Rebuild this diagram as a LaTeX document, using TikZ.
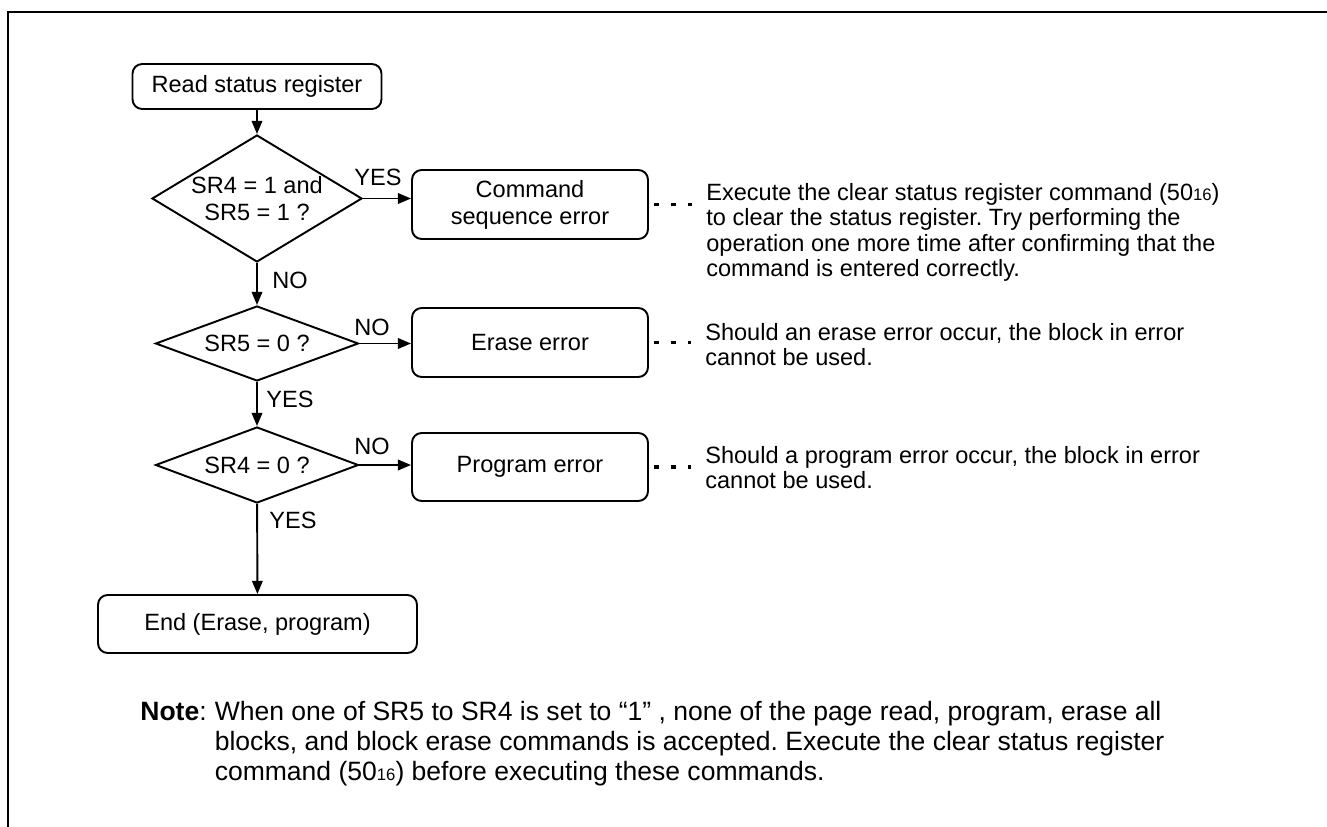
\documentclass[tikz,border=0pt]{standalone}
\usepackage{fontspec}
\setmainfont{Liberation Sans}
\usetikzlibrary{arrows.meta,positioning,shapes.geometric}
\frenchspacing
\tikzset{
  base/.style={font=\fontsize{13.4}{15.4}\selectfont, align=center, inner sep=0pt, text=black},
  box/.style={base, rectangle, rounded corners=5.5pt, draw, line width=1.1pt},
  dec/.style={base, diamond, draw, line width=1.1pt},
  arr/.style={-{Triangle[length=7.5pt,width=6pt]}, line width=1.1pt},
  dots/.style={line width=2pt, dash pattern=on 2.85pt off 6.8pt, shorten <=2.85pt, shorten >=8pt},
  lbl/.style={base},
  desc/.style={base, align=left, anchor=north west, font=\fontsize{13.4}{14.5}\selectfont},
  notetxt/.style={base, align=left, font=\fontsize{15.1}{16.8}\selectfont},
}
\newcommand{\hexval}[2]{#1{\fontsize{9.5}{10}\selectfont #2}}

\begin{document}
\begin{tikzpicture}[x=0.02cm, y=-0.02cm]
  \useasboundingbox (0,0) rectangle (1327,827);
  \draw[line width=1.1pt] (1327,12) -- (8,12) -- (8,827);
  % main flow
  \node[box, minimum width=4.98cm, minimum height=0.9cm] (read) at (257,86.5) {Read status register};
  \node[dec, aspect=1.65, minimum width=4.2cm, minimum height=2.54cm] (chk1) at (257,198.5) {SR4 = 1 and\\SR5 = 1 ?};
  \node[dec, aspect=2.7, minimum width=4.06cm, minimum height=1.5cm] (chk2) at (257,343.5) {SR5 = 0 ?};
  \node[dec, aspect=2.67, minimum width=4.06cm, minimum height=1.52cm] (chk3) at (257,465) {SR4 = 0 ?};
  \node[box, minimum width=6.38cm, minimum height=1.16cm] (fin) at (257.5,624) {End (Erase, program)};
  % error boxes
  \node[box, minimum width=4.72cm, minimum height=1.38cm] (cmderr) at (530,204.5) {Command\\sequence error};
  \node[box, minimum width=4.72cm, minimum height=1.38cm] (eraerr) at (530,342.5) {Erase error};
  \node[box, minimum width=4.72cm, minimum height=1.36cm] (prgerr) at (530,467) {Program error};
  % arrows
  \draw[arr] (read) -- (chk1);
  \draw[arr] (chk1) -- (chk2);
  \draw[arr] (chk2) -- (chk3);
  \draw[arr] (chk3) -- (fin);
  \draw[arr] (chk1.east) -- (chk1.east -| cmderr.west);
  \draw[arr] (chk2.east) -- (chk2.east -| eraerr.west);
  \draw[arr] (chk3.east) -- (chk3.east -| prgerr.west);
  % branch labels
  \node[lbl] (yes1) at (378,177) {YES};
  \node[lbl] (no1) at (290,280) {NO};
  \node[lbl] (no2) at (372,327) {NO};
  \node[lbl] (yes2) at (290,399) {YES};
  \node[lbl] (no3) at (372,446) {NO};
  \node[lbl] (yes3) at (293,520) {YES};
  % remarks
  \node[desc] (desc1) at (706,183) {Execute the clear status register command (\hexval{50}{16})\\to clear the status register. Try performing the\\operation one more time after confirming that the\\command is entered correctly.};
  \node[desc] (desc2) at (705,323) {Should an erase error occur, the block in error\\cannot be used.};
  \node[desc] (desc3) at (705,446) {Should a program error occur, the block in error\\cannot be used.};
  \draw[dots] (cmderr.east) -- (cmderr.east -| desc1.west);
  \draw[dots] (eraerr.east) -- (eraerr.east -| desc2.west);
  \draw[dots] (prgerr.east) -- (prgerr.east -| desc3.west);
  % note
  \node[notetxt, anchor=base west] (notehd) at (140,720) {\textbf{Note}:};
  \node[notetxt, anchor=north west] (notebody) at ([xshift=4.2pt]notehd.north east) {When one of SR5 to SR4 is set to “1” , none of the page read, program, erase all\\blocks, and block erase commands is accepted. Execute the clear status register\\command (\hexval{50}{16}) before executing these commands.};
\end{tikzpicture}
\end{document}
